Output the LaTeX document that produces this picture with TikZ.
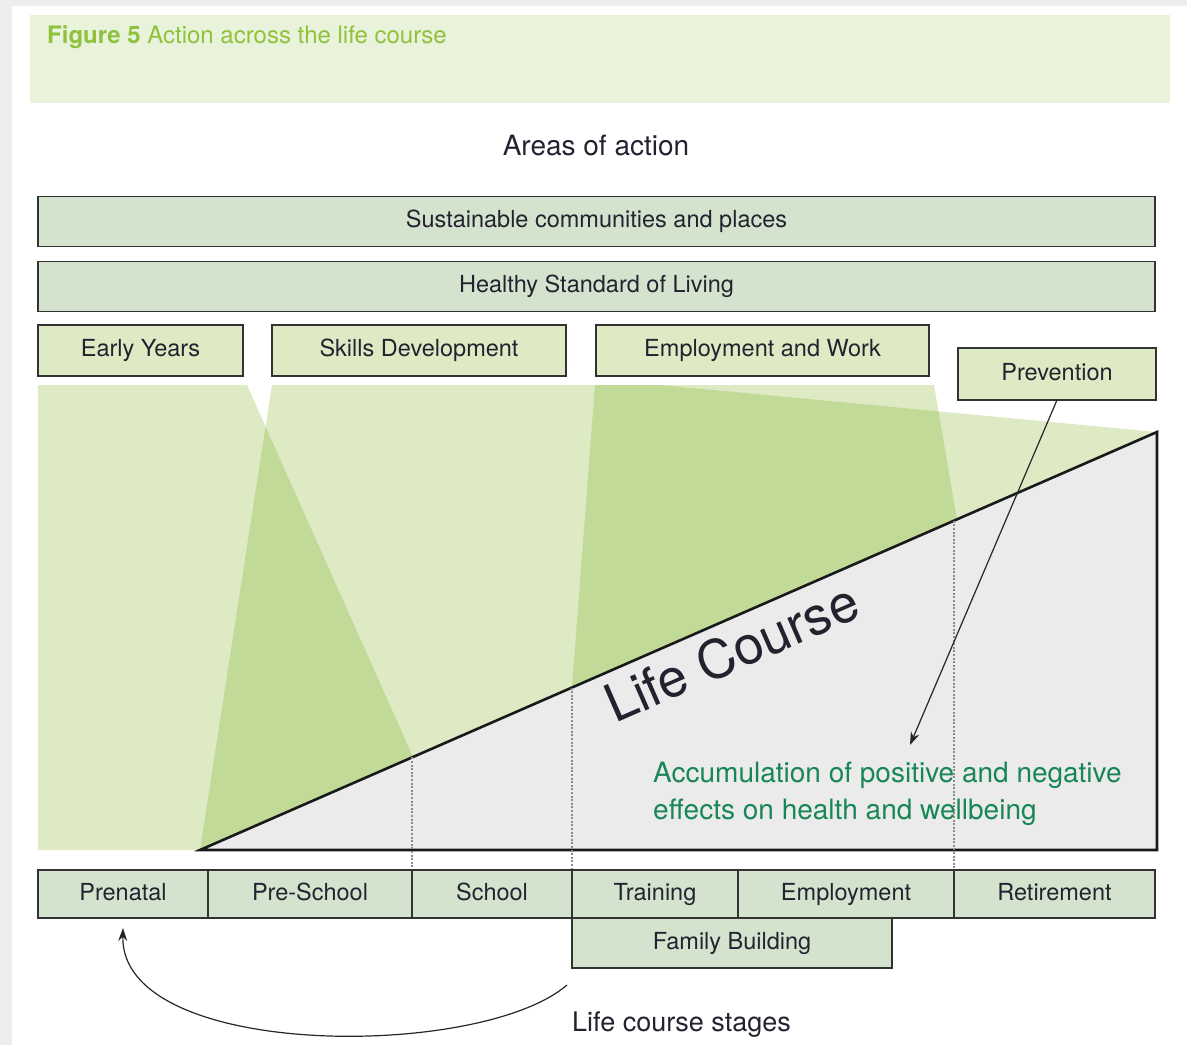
\documentclass[tikz,border=0pt]{standalone}
\usepackage{fontspec}
\setmainfont{TeX Gyre Heros}
\usetikzlibrary{positioning, arrows.meta, calc}
\definecolor{bandgreen}{RGB}{233,242,218}
\definecolor{titlegreen}{RGB}{143,194,60}
\definecolor{areagreen}{RGB}{222,234,196}
\definecolor{overlapgreen}{RGB}{193,218,152}
\definecolor{stagegreen}{RGB}{212,227,206}
\definecolor{lifegray}{RGB}{235,235,235}
\definecolor{accgreen}{RGB}{24,134,86}
\definecolor{inkdark}{RGB}{35,35,48}
\tikzset{
    box/.style={ % Sets the properties for each framed box
        draw=black!80,
        line width=1.6pt,
        outer sep=0pt,
        inner sep=0pt,
        text=inkdark,
        text height=17pt, % same vertical place for every label
        text depth=5pt,
        font=\fontsize{23.5}{28}\selectfont
    },
    wide/.style={box, fill=stagegreen, minimum width=1117pt, minimum height=50pt},
    area/.style={box, fill=areagreen, minimum height=51pt},
    stage/.style={box, fill=stagegreen, minimum height=48pt},
    stageline/.style={ % Dotted separators below the life course line
        draw=black!45,
        dash pattern=on 2pt off 1.6pt,
        line width=2pt
    },
    pointer/.style={ % Arrows with filled heads
        -{Stealth[length=13pt,width=9pt]},
        line width=1.2pt,
        draw=black!85
    },
}

\begin{document}
\begin{tikzpicture}[
                x=1pt, y=-1pt % one unit is one pixel of the page, y runs down
            ]
            \useasboundingbox (0,0) rectangle (1187,1045);
            % page edge
            \fill[black!7] (0,0) rectangle (1187,6);
            \fill[black!7] (0,0) rectangle (12,1045);

            \node[fill=bandgreen, inner sep=0pt, minimum width=1140pt, minimum height=88pt,
                  anchor=north west] (band) at (30,15) {};
            \node[anchor=base west, inner sep=0pt, text=titlegreen,
                  font=\fontsize{24}{28}\selectfont] (title) at (47,43)
                  {\textbf{Figure 5} Action across the life course};
            \node[anchor=base, inner sep=0pt, text=inkdark,
                  font=\fontsize{28}{32}\selectfont] (areas) at (596,155) {Areas of action};

            \node[wide]                   (sust)   at (596.5,221.5) {Sustainable communities and places};
            \node[wide, below=15pt of sust]                 (living) {Healthy Standard of Living};
            \node[area, minimum width=205pt, anchor=north west] (early) at (38,325) {Early Years};
            \node[area, minimum width=294pt, right=29pt of early] (skills) {Skills Development};
            \node[area, minimum width=333pt, right=30pt of skills] (work)  {Employment and Work};
            \node[area, minimum width=198pt, minimum height=52pt] (prev) at (1057,374) {Prevention};

            % life course stages
            \node[stage, minimum width=170pt] (prenatal) at (123,894) {Prenatal};
            \node[stage, minimum width=204pt, right=0pt of prenatal] (presch) {Pre-School};
            \node[stage, minimum width=160pt, right=0pt of presch]   (school) {School};
            \node[stage, minimum width=166pt, right=0pt of school]   (train)  {Training};
            \node[stage, minimum width=216pt, right=0pt of train]    (employ) {Employment};
            \node[stage, minimum width=201pt, right=0pt of employ]   (retire) {Retirement};
            \node[stage, minimum width=320pt, minimum height=50pt, anchor=north west]
                  (family) at (train.south west) {Family Building};

            % corners of the life course triangle
            \coordinate (apex) at (200,850);
            \coordinate (top)  at (1157,432);
            \coordinate (foot) at (1157,850);

            % fans of action
            \fill[areagreen] (38,385) -- (247,385) -- (413,757) -- (apex) -- (38,850) -- cycle;
            \fill[areagreen] (272,385) -- (660,385) -- (top) -- (apex) -- cycle;
            \fill[areagreen] (595,385) -- (934,385) -- (957,520) -- (572,687) -- cycle;
            \begin{scope}
                \clip (272,385) -- (660,385) -- (top) -- (apex) -- cycle;
                \fill[overlapgreen] (38,385) -- (247,385) -- (413,757) -- (apex) -- (38,850) -- cycle;
                \fill[overlapgreen] (595,385) -- (934,385) -- (957,520) -- (572,687) -- cycle;
            \end{scope}

            \draw[fill=lifegray, draw=black!90, line width=2.6pt, line join=miter]
                    (apex) -- (top) -- (foot) -- cycle;

            \foreach \stg in {presch, school, employ}
                \draw[stageline]
                    (intersection of apex--top and {\stg.north east}--{\stg.south east})
                    -- ([yshift=2pt]\stg.north east);

            \node[anchor=base west, rotate=23.6, inner sep=0pt, text=inkdark,
                  font=\fontsize{53}{58}\selectfont] (lifecourse) at (615,724) {Life Course};
            \node[anchor=north west, align=left, inner sep=0pt, text=accgreen,
                  font=\fontsize{28}{37}\selectfont] (accum) at (653,762)
                  {Accumulation of positive and negative\\effects on health and wellbeing};

            \coordinate (prevtip) at (910,745);
            \draw[pointer] (prev.south) -- (prevtip);

            \coordinate (loopstart) at (567,985);
            \draw[pointer]
                    (loopstart) .. controls (480,1060) and (120,1060) .. ([yshift=-10pt]prenatal.south);

            \node[anchor=base west, inner sep=0pt, text=inkdark,
                  font=\fontsize{27}{32}\selectfont] (stages) at (572,1031) {Life course stages};
        \end{tikzpicture}
\end{document}
